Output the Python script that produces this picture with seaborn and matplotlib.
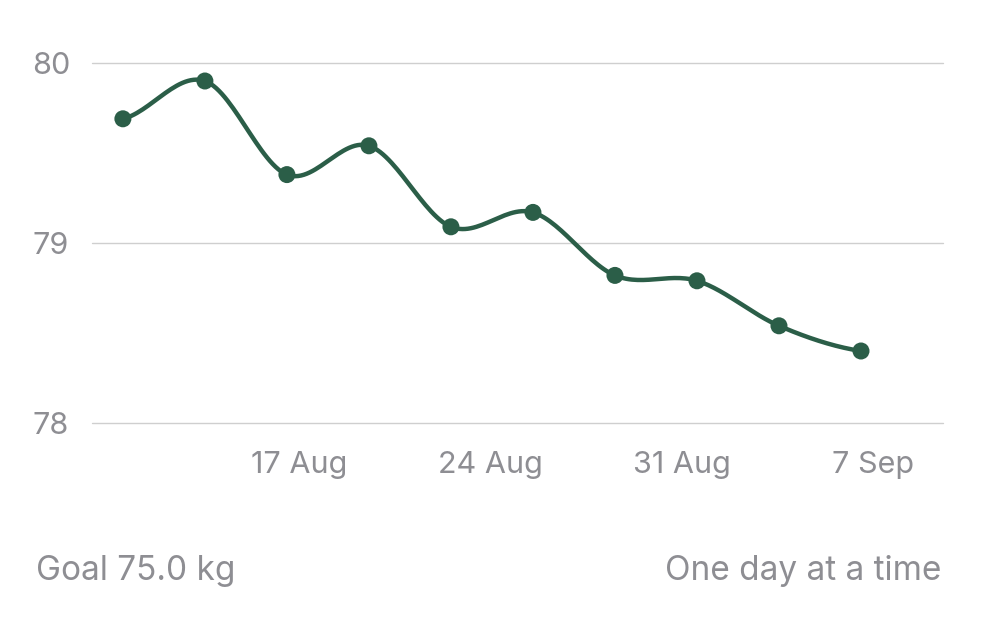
import numpy as np
import pandas as pd
import seaborn as sns
import matplotlib.pyplot as plt
import matplotlib.transforms as mtransforms

# day numbers counted from 1 Aug (32 = 1 Sep)
days = [11, 14, 17, 20, 23, 26, 29, 32, 35, 38]
weights = [79.69, 79.90, 79.38, 79.54, 79.09, 79.17, 78.82, 78.79, 78.54, 78.40]
tick_days = [17, 24, 31, 38]
tick_labels = ["17 Aug", "24 Aug", "31 Aug", "7 Sep"]
y_ticks = [78, 79, 80]

GREEN = "#2b5e48"
GREY = "#8e8e93"


def smooth(x, y, n=30):
    # cardinal (Catmull-Rom) spline through the points, for a rounded line
    x = np.asarray(x, float)
    y = np.asarray(y, float)
    px = np.concatenate([[2 * x[0] - x[1]], x, [2 * x[-1] - x[-2]]])
    py = np.concatenate([[y[0]], y, [y[-1]]])
    xs, ys = [], []
    for i in range(1, len(px) - 2):
        t = np.linspace(0, 1, n)
        h00 = 2 * t**3 - 3 * t**2 + 1
        h10 = t**3 - 2 * t**2 + t
        h01 = -2 * t**3 + 3 * t**2
        h11 = t**3 - t**2
        mx0, mx1 = (px[i + 1] - px[i - 1]) / 2, (px[i + 2] - px[i]) / 2
        my0, my1 = (py[i + 1] - py[i - 1]) / 2, (py[i + 2] - py[i]) / 2
        xs.append(h00 * px[i] + h10 * mx0 + h01 * px[i + 1] + h11 * mx1)
        ys.append(h00 * py[i] + h10 * my0 + h01 * py[i + 1] + h11 * my1)
    return np.concatenate(xs), np.concatenate(ys)


sns.set_theme(style="white")
plt.rcParams["font.family"] = ["Inter", "DejaVu Sans"]

fig = plt.figure(figsize=(10, 6.25), dpi=100)
ax = fig.add_axes([0.092, 0.3232, 0.851, 0.576])

df = pd.DataFrame({"day": days, "weight": weights})
sx, sy = smooth(days, weights)
ax.plot(sx, sy, color=GREEN, lw=3.2, solid_capstyle="round", zorder=3)
sns.scatterplot(data=df, x="day", y="weight", color=GREEN, s=150,
                edgecolor="none", zorder=4, ax=ax)

ax.set_xlim(9.87, 41)
ax.set_ylim(78, 80)
ax.set_yticks(y_ticks)
ax.set_yticklabels([str(v) for v in y_ticks])
ax.set_xticks(tick_days)
ax.set_xticklabels(tick_labels)
ax.tick_params(axis="both", length=0, labelsize=22, labelcolor=GREY)
ax.tick_params(axis="x", pad=20)
offset = mtransforms.ScaledTranslation(0.12, 0, fig.dpi_scale_trans)
for lab in ax.get_xticklabels():
    lab.set_transform(lab.get_transform() + offset)
for lab in ax.get_yticklabels():
    lab.set_horizontalalignment("left")
    lab.set_transform(lab.get_transform() + mtransforms.ScaledTranslation(-0.55, 0, fig.dpi_scale_trans))

ax.grid(axis="y", color="#cfcfcf", lw=1)
for gl in ax.get_ygridlines():
    gl.set_clip_on(False)
ax.set_xlabel("")
ax.set_ylabel("")
for s in ax.spines.values():
    s.set_visible(False)

fig.text(0.036, 0.086, "Goal 75.0 kg", fontsize=24, color=GREY, ha="left", va="center")
fig.text(0.941, 0.086, "One day at a time", fontsize=24, color=GREY, ha="right", va="center")

fig.savefig("out.png", dpi=100, facecolor="white")
